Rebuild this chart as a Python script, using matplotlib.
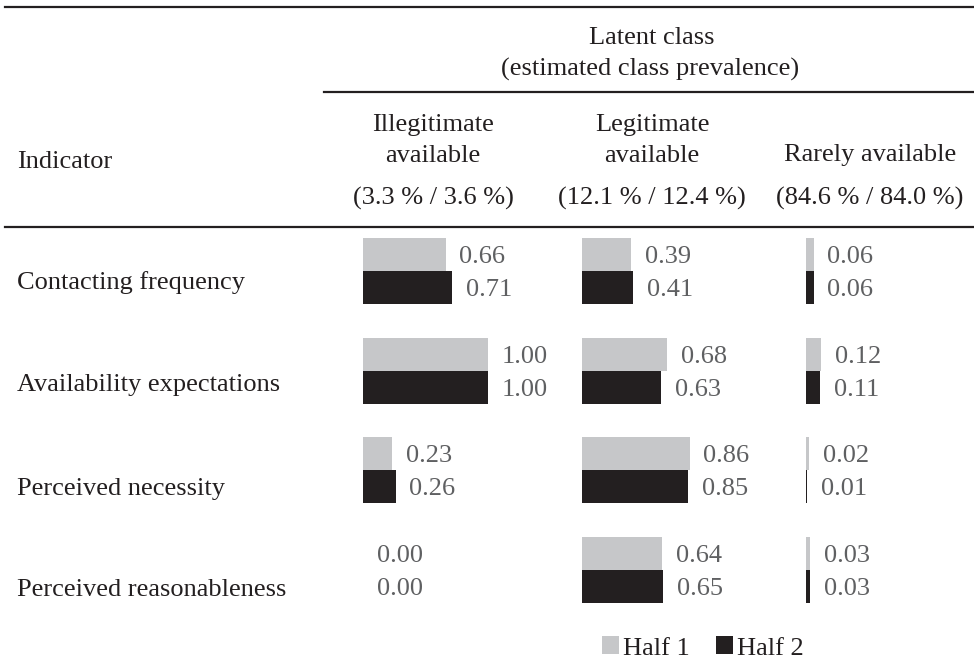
import matplotlib.pyplot as plt
from matplotlib.lines import Line2D

# data
indicators = ["Contacting frequency", "Availability expectations",
              "Perceived necessity", "Perceived reasonableness"]
classes = [["Illegitimate", "available"], ["Legitimate", "available"], ["Rarely available"]]
prevalence = ["(3.3 % / 3.6 %)", "(12.1 % / 12.4 %)", "(84.6 % / 84.0 %)"]
half1 = [[0.66, 1.00, 0.23, 0.00],
         [0.39, 0.68, 0.86, 0.64],
         [0.06, 0.12, 0.02, 0.03]]
half2 = [[0.71, 1.00, 0.26, 0.00],
         [0.41, 0.63, 0.85, 0.65],
         [0.06, 0.11, 0.01, 0.03]]

W, H = 974, 661
plt.rcParams['font.family'] = ['Liberation Serif', 'DejaVu Serif']
FS = 19
DARK = "#231f20"
GREY_TXT = "#5f6062"
LIGHT = "#c6c7c9"

fig = plt.figure(figsize=(W / 100, H / 100), dpi=100)


def fx(x):
    return x / W


def fy(y):
    return 1 - y / H


# rules of the table
for x0, y in [(5, 7), (324, 92), (5, 227)]:
    fig.add_artist(Line2D([fx(x0), fx(W)], [fy(y), fy(y)], color=DARK, lw=1.6))

# header
fig.text(fx(652), fy(35), "Latent class", ha="center", va="center_baseline", fontsize=FS, color=DARK)
fig.text(fx(650), fy(67), "(estimated class prevalence)", ha="center", va="center_baseline",
         fontsize=FS, color=DARK)
fig.text(fx(17), fy(160), "Indicator", ha="left", va="center_baseline", fontsize=FS, color=DARK)

col_centers = [433, 652, 870]
bar_left = [363, 582, 806]
for c in range(3):
    lines = classes[c]
    ys = [123, 153] if len(lines) == 2 else [152]
    for t, yy in zip(lines, ys):
        fig.text(fx(col_centers[c]), fy(yy), t, ha="center", va="center_baseline", fontsize=FS, color=DARK)
    fig.text(fx(col_centers[c]), fy(196), prevalence[c], ha="center", va="center_baseline",
             fontsize=FS, color=DARK)

# row labels
row_y = [280, 382, 486, 587]
for lab, yy in zip(indicators, row_y):
    fig.text(fx(17), fy(yy), lab, ha="left", va="center_baseline", fontsize=FS, color=DARK)

# bars, one axes per latent class
scale = 125.0          # pixels per unit
top, bot = 221, 620    # row -0.5 .. row 3.5
ax_w = 150
bh = 0.331
rows = list(range(len(indicators)))
for c in range(3):
    ax = fig.add_axes([fx(bar_left[c]), fy(bot), ax_w / W, (bot - top) / H])
    ax.set_xlim(0, ax_w / scale)
    ax.set_ylim(3.5, -0.5)
    ax.axis("off")
    b1 = ax.barh([r - bh / 2 for r in rows], half1[c], height=bh, color=LIGHT, lw=0, label="Half 1")
    b2 = ax.barh([r + bh / 2 for r in rows], half2[c], height=bh, color=DARK, lw=0, label="Half 2")
    for r in rows:
        ax.text(half1[c][r] + 0.112, r - bh / 2, f"{half1[c][r]:.2f}", va="center_baseline",
                ha="left", fontsize=FS, color=GREY_TXT, clip_on=False)
        ax.text(half2[c][r] + 0.112, r + bh / 2, f"{half2[c][r]:.2f}", va="center_baseline",
                ha="left", fontsize=FS, color=GREY_TXT, clip_on=False)

fig.legend(handles=[b1, b2], loc="center", bbox_to_anchor=(fx(703), fy(648)), ncol=2,
           frameon=False, fontsize=FS, handlelength=0.65, handleheight=0.65,
           handletextpad=0.15, columnspacing=1.0, labelcolor=DARK)

fig.savefig("out.png", dpi=100)
